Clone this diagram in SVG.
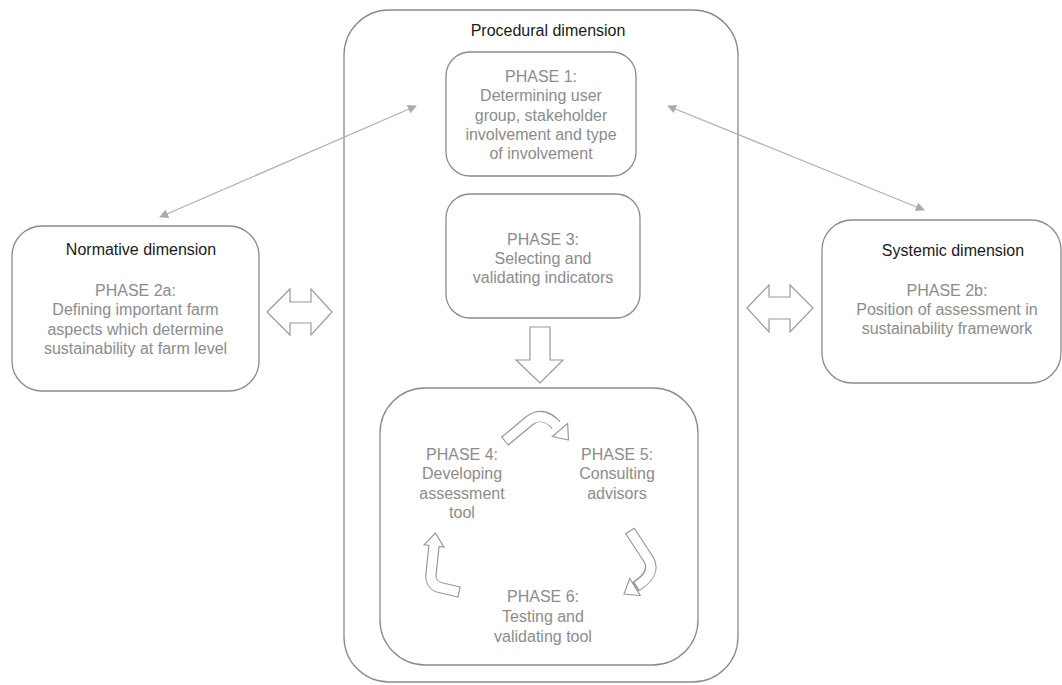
<svg xmlns="http://www.w3.org/2000/svg" width="1062" height="685" viewBox="0 0 1062 685">
<style>
.box{fill:#fff;stroke:#8a8a8a;stroke-width:1.3}
.bigbox{fill:none;stroke:#8a8a8a;stroke-width:1.3}
.title{font-family:"Liberation Sans",Arial,sans-serif;font-size:16px;fill:#1a1a1a;text-anchor:middle}
.txt{font-family:"Liberation Sans",Arial,sans-serif;font-size:16px;fill:#8c8c8c;text-anchor:middle}
.blk{fill:#fff;stroke:#999;stroke-width:1.2;stroke-linejoin:miter}
.shO{fill:none;stroke:#999;stroke-width:11.4}
.shI{fill:none;stroke:#fff;stroke-width:9}
.thin{stroke:#b0b0b0;stroke-width:1.2;fill:none}
</style>
<defs>
<marker id="ah" viewBox="0 0 10 10" refX="9" refY="5" markerWidth="9" markerHeight="9" markerUnits="userSpaceOnUse" orient="auto-start-reverse">
<path d="M0,0 L10,5 L0,10 z" fill="#aaa"/>
</marker>
</defs>
<g id="procedural">
<rect class="bigbox" x="344" y="10" width="394" height="672" rx="45"/>
<text class="title" x="548" y="36">Procedural dimension</text>
</g>
<g id="phase1">
<rect class="box" x="446" y="52" width="190" height="124" rx="24"/>
<text class="txt" x="541" y="82">PHASE 1:</text>
<text class="txt" x="541" y="101">Determining user</text>
<text class="txt" x="541" y="121">group, stakeholder</text>
<text class="txt" x="541" y="140">involvement and type</text>
<text class="txt" x="541" y="159">of involvement</text>
</g>
<g id="phase3">
<rect class="box" x="446" y="194" width="194" height="124" rx="24"/>
<text class="txt" x="543" y="245">PHASE 3:</text>
<text class="txt" x="543" y="264">Selecting and</text>
<text class="txt" x="543" y="283">validating indicators</text>
</g>
<g id="normative">
<rect class="box" x="12" y="226" width="247" height="165" rx="30"/>
<text class="title" x="141" y="255">Normative dimension</text>
<text class="txt" x="135.5" y="296">PHASE 2a:</text>
<text class="txt" x="135.5" y="315">Defining important farm</text>
<text class="txt" x="135.5" y="335">aspects which determine</text>
<text class="txt" x="135.5" y="354">sustainability at farm level</text>
</g>
<g id="systemic">
<rect class="box" x="822" y="220" width="239" height="163" rx="30"/>
<text class="title" x="953" y="256">Systemic dimension</text>
<text class="txt" x="947" y="296">PHASE 2b:</text>
<text class="txt" x="947" y="315">Position of assessment in</text>
<text class="txt" x="947" y="334">sustainability framework</text>
</g>
<g id="cycle">
<rect class="box" x="380" y="388" width="318" height="277" rx="45"/>
</g>
<g id="phase4">
<text class="txt" x="462" y="460">PHASE 4:</text>
<text class="txt" x="462" y="479">Developing</text>
<text class="txt" x="462" y="499">assessment</text>
<text class="txt" x="462" y="518">tool</text>
</g>
<g id="phase5">
<text class="txt" x="617" y="460">PHASE 5:</text>
<text class="txt" x="617" y="479">Consulting</text>
<text class="txt" x="617" y="499">advisors</text>
</g>
<g id="phase6">
<text class="txt" x="543" y="602">PHASE 6:</text>
<text class="txt" x="543" y="622">Testing and</text>
<text class="txt" x="543" y="642">validating tool</text>
</g>
<g id="connectors">
<line class="thin" x1="160" y1="217" x2="416" y2="106" marker-start="url(#ah)" marker-end="url(#ah)"/>
<line class="thin" x1="668" y1="106" x2="924" y2="210" marker-start="url(#ah)" marker-end="url(#ah)"/>
<polygon class="blk" points="267,312 290,289 290,302 311,302 311,289 332,312 311,335 311,323 290,323 290,335"/>
<polygon class="blk" points="747,308 769,285 769,297 790,297 790,285 813,308 790,332 790,319 769,319 769,332"/>
<polygon class="blk" points="530,327 550,327 550,360 563,360 540,383 516,360 530,360"/>
<path class="shO" d="M505,441 L529,421 Q543,410 556,425"/>
<polygon class="blk" points="567.6,423.5 568.5,440 552.4,436.5"/>
<path class="shI" d="M505,441 L529,421 Q543,410 558,427"/>
<line x1="501.4" y1="436.5" x2="508.6" y2="445.5" stroke="#999" stroke-width="1.2"/>
<path class="shO" d="M630,531 L649,560 Q656,574 635,587"/>
<polygon class="blk" points="640.3,595.5 624,594 629.7,578.5"/>
<path class="shI" d="M630,531 L649,560 Q656,574 637,586"/>
<line x1="625.2" y1="534.1" x2="634.8" y2="527.9" stroke="#999" stroke-width="1.2"/>
<path class="shO" d="M459,592 L442,588 Q430,586 431,574 L434,546"/>
<polygon class="blk" points="443.9,547.1 435.4,533 424.1,544.9"/>
<path class="shI" d="M459,592 L442,588 Q430,586 431,574 L434.3,543"/>
<line x1="460.2" y1="586.4" x2="457.8" y2="597.6" stroke="#999" stroke-width="1.2"/>
</g>
</svg>
